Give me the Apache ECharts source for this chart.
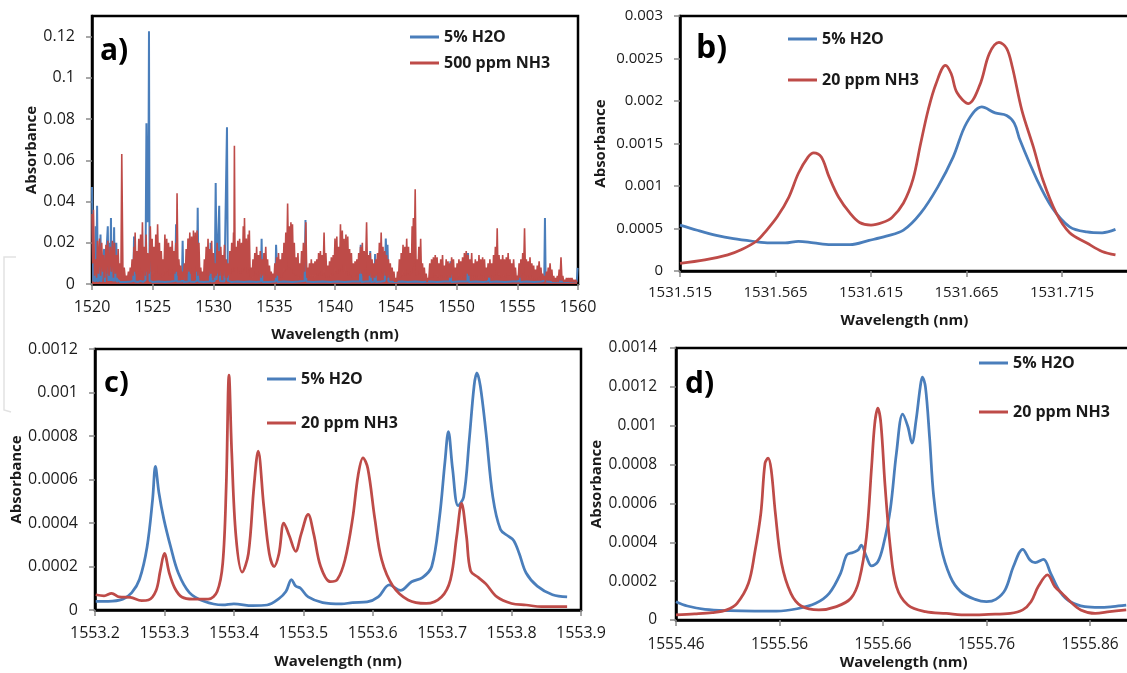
<!DOCTYPE html>
<html>
<head>
<meta charset="utf-8">
<script src="https://cdn.jsdelivr.net/npm/echarts@6.0.0/dist/echarts.min.js"></script>
<style>
html,body{margin:0;padding:0;background:#fff;}
#chart{width:1127px;height:673px;}
</style>
</head>
<body>
<div id="chart"></div>
<script>
// ---------- DATA ----------
const NAME_H2O = '5% H2O';
const NAME_NH3_A = '500 ppm NH3';
const NAME_NH3 = '20 ppm NH3';

// Panel a) : wide scan 1520-1560 nm
const ticksA = [1520,1525,1530,1535,1540,1545,1550,1555,1560];
const h2oA = [[1520.00,0.047],[1520.04,0.030],[1520.10,0.0012],[1520.20,0.012],[1520.25,0.001],[1520.30,0.028],[1520.35,0.0012],[1520.42,0.038],[1520.48,0.001],[1520.55,0.010],[1520.62,0.0012],[1520.70,0.024],[1520.76,0.001],[1520.90,0.0015],[1521.00,0.017],[1521.06,0.001],[1521.20,0.0018],[1521.30,0.028],[1521.36,0.0015],[1521.45,0.020],[1521.50,0.0015],[1521.56,0.032],[1521.62,0.0015],[1521.72,0.018],[1521.76,0.0012],[1521.82,0.0275],[1521.88,0.0012],[1522.00,0.020],[1522.06,0.001],[1522.15,0.002],[1522.30,0.001],[1522.80,0.001],[1523.20,0.0012],[1523.40,0.0015],[1523.46,0.023],[1523.52,0.0012],[1523.80,0.001],[1524.00,0.0015],[1524.20,0.001],[1524.40,0.0018],[1524.48,0.078],[1524.56,0.030],[1524.64,0.045],[1524.69,0.1226],[1524.74,0.0015],[1525.00,0.001],[1525.50,0.0012],[1526.00,0.001],[1526.50,0.0012],[1526.85,0.0015],[1526.92,0.029],[1526.98,0.0012],[1527.40,0.0012],[1527.46,0.021],[1527.52,0.001],[1527.95,0.0012],[1528.00,0.022],[1528.06,0.0012],[1528.40,0.001],[1528.64,0.0015],[1528.70,0.037],[1528.76,0.0012],[1529.20,0.001],[1529.70,0.0012],[1529.76,0.020],[1529.82,0.0012],[1530.10,0.0015],[1530.18,0.049],[1530.26,0.002],[1530.40,0.0018],[1530.47,0.038],[1530.54,0.0015],[1530.90,0.0012],[1531.04,0.0018],[1531.11,0.076],[1531.18,0.0015],[1531.50,0.001],[1532.00,0.0012],[1532.50,0.001],[1533.00,0.0012],[1533.50,0.001],[1533.90,0.0012],[1533.96,0.022],[1534.02,0.001],[1534.50,0.001],[1535.10,0.0012],[1535.15,0.019],[1535.20,0.012],[1535.25,0.001],[1535.80,0.0012],[1536.50,0.001],[1537.00,0.0012],[1537.50,0.0015],[1537.57,0.031],[1537.64,0.0012],[1538.20,0.001],[1539.00,0.0012],[1539.60,0.001],[1540.20,0.0012],[1540.80,0.001],[1541.40,0.0012],[1542.05,0.0012],[1542.12,0.019],[1542.18,0.001],[1542.50,0.0012],[1542.85,0.0012],[1542.90,0.016],[1542.96,0.001],[1543.25,0.0012],[1543.30,0.0145],[1543.36,0.001],[1543.80,0.0012],[1544.10,0.0015],[1544.18,0.022],[1544.25,0.010],[1544.32,0.019],[1544.40,0.0012],[1544.90,0.001],[1545.50,0.0012],[1546.00,0.001],[1546.60,0.0012],[1547.20,0.001],[1547.80,0.0012],[1548.40,0.001],[1549.00,0.0012],[1549.45,0.0012],[1549.50,0.011],[1549.56,0.001],[1550.20,0.0012],[1550.90,0.0012],[1550.95,0.015],[1551.01,0.001],[1551.60,0.0012],[1552.20,0.001],[1552.60,0.0012],[1552.65,0.008],[1552.71,0.001],[1553.30,0.0012],[1554.00,0.001],[1554.60,0.0012],[1555.10,0.0012],[1555.15,0.006],[1555.21,0.001],[1555.80,0.0012],[1556.40,0.001],[1557.00,0.0012],[1557.22,0.0015],[1557.28,0.032],[1557.34,0.0012],[1557.80,0.001],[1558.40,0.0012],[1559.00,0.001],[1559.50,0.0012],[1559.90,0.0012],[1559.97,0.0078]];
const nh3A = [[1520.00,0.034],[1520.06,0.010],[1520.12,0.036],[1520.21,0.004],[1520.30,0.012],[1520.38,0.003],[1520.45,0.021],[1520.53,0.005],[1520.62,0.022],[1520.71,0.004],[1520.80,0.020],[1520.88,0.006],[1520.95,0.014],[1521.05,0.003],[1521.15,0.019],[1521.22,0.005],[1521.30,0.021],[1521.40,0.004],[1521.50,0.018],[1521.59,0.006],[1521.68,0.021],[1521.76,0.003],[1521.85,0.020],[1521.92,0.005],[1522.00,0.014],[1522.08,0.003],[1522.15,0.017],[1522.22,0.004],[1522.30,0.010],[1522.38,0.003],[1522.45,0.063],[1522.55,0.003],[1522.65,0.008],[1522.75,0.002],[1522.85,0.004],[1522.92,0.002],[1523.00,0.006],[1523.08,0.002],[1523.15,0.008],[1523.22,0.003],[1523.30,0.012],[1523.38,0.004],[1523.45,0.018],[1523.50,0.006],[1523.55,0.025],[1523.62,0.005],[1523.70,0.016],[1523.78,0.006],[1523.85,0.022],[1523.92,0.004],[1524.00,0.024],[1524.08,0.006],[1524.15,0.030],[1524.22,0.005],[1524.30,0.018],[1524.38,0.004],[1524.45,0.024],[1524.52,0.006],[1524.60,0.015],[1524.70,0.005],[1524.80,0.028],[1524.88,0.006],[1524.95,0.022],[1525.02,0.004],[1525.10,0.018],[1525.18,0.005],[1525.25,0.024],[1525.32,0.006],[1525.40,0.029],[1525.48,0.005],[1525.55,0.020],[1525.62,0.004],[1525.70,0.016],[1525.78,0.003],[1525.85,0.012],[1525.92,0.004],[1526.00,0.024],[1526.08,0.005],[1526.15,0.022],[1526.22,0.006],[1526.30,0.020],[1526.38,0.004],[1526.45,0.018],[1526.52,0.005],[1526.60,0.021],[1526.68,0.004],[1526.75,0.016],[1526.82,0.005],[1526.90,0.020],[1526.95,0.006],[1527.00,0.044],[1527.08,0.004],[1527.15,0.012],[1527.22,0.003],[1527.30,0.009],[1527.38,0.002],[1527.45,0.006],[1527.52,0.002],[1527.60,0.010],[1527.68,0.003],[1527.75,0.017],[1527.82,0.005],[1527.90,0.022],[1527.98,0.006],[1528.05,0.025],[1528.12,0.005],[1528.20,0.023],[1528.28,0.006],[1528.35,0.026],[1528.42,0.005],[1528.50,0.025],[1528.58,0.006],[1528.65,0.026],[1528.72,0.004],[1528.80,0.020],[1528.88,0.003],[1528.95,0.008],[1529.02,0.002],[1529.10,0.006],[1529.18,0.002],[1529.25,0.012],[1529.32,0.004],[1529.40,0.018],[1529.48,0.005],[1529.55,0.022],[1529.62,0.004],[1529.70,0.017],[1529.78,0.005],[1529.85,0.021],[1529.92,0.003],[1530.00,0.015],[1530.08,0.003],[1530.15,0.010],[1530.22,0.004],[1530.30,0.020],[1530.38,0.005],[1530.45,0.016],[1530.52,0.004],[1530.60,0.018],[1530.68,0.005],[1530.75,0.014],[1530.82,0.004],[1530.90,0.019],[1530.98,0.003],[1531.05,0.012],[1531.12,0.003],[1531.20,0.010],[1531.28,0.004],[1531.35,0.016],[1531.42,0.005],[1531.50,0.020],[1531.58,0.006],[1531.65,0.025],[1531.68,0.008],[1531.72,0.067],[1531.78,0.006],[1531.85,0.018],[1531.92,0.005],[1532.00,0.021],[1532.08,0.006],[1532.15,0.022],[1532.22,0.005],[1532.30,0.020],[1532.38,0.006],[1532.45,0.028],[1532.50,0.008],[1532.55,0.032],[1532.62,0.006],[1532.70,0.022],[1532.78,0.005],[1532.85,0.024],[1532.90,0.007],[1532.95,0.026],[1533.02,0.003],[1533.10,0.008],[1533.18,0.003],[1533.25,0.012],[1533.32,0.004],[1533.40,0.015],[1533.48,0.005],[1533.55,0.018],[1533.62,0.004],[1533.70,0.014],[1533.78,0.005],[1533.85,0.016],[1533.92,0.003],[1534.00,0.012],[1534.08,0.004],[1534.15,0.015],[1534.22,0.005],[1534.30,0.018],[1534.38,0.004],[1534.45,0.012],[1534.52,0.003],[1534.60,0.009],[1534.68,0.002],[1534.75,0.006],[1534.82,0.002],[1534.90,0.005],[1534.98,0.002],[1535.05,0.010],[1535.12,0.003],[1535.20,0.013],[1535.28,0.004],[1535.35,0.015],[1535.42,0.004],[1535.50,0.012],[1535.58,0.003],[1535.65,0.015],[1535.72,0.005],[1535.80,0.020],[1535.88,0.006],[1535.95,0.025],[1536.02,0.007],[1536.10,0.039],[1536.18,0.008],[1536.25,0.028],[1536.31,0.008],[1536.37,0.030],[1536.44,0.007],[1536.50,0.029],[1536.58,0.005],[1536.65,0.020],[1536.72,0.004],[1536.80,0.013],[1536.88,0.004],[1536.95,0.015],[1537.02,0.003],[1537.10,0.010],[1537.18,0.004],[1537.25,0.016],[1537.32,0.005],[1537.40,0.020],[1537.50,0.006],[1537.60,0.030],[1537.68,0.003],[1537.75,0.008],[1537.82,0.003],[1537.90,0.010],[1537.98,0.004],[1538.05,0.012],[1538.12,0.004],[1538.20,0.010],[1538.28,0.003],[1538.35,0.011],[1538.42,0.004],[1538.50,0.012],[1538.58,0.004],[1538.65,0.015],[1538.72,0.005],[1538.80,0.016],[1538.88,0.004],[1538.95,0.014],[1539.02,0.005],[1539.10,0.025],[1539.18,0.004],[1539.25,0.015],[1539.32,0.003],[1539.40,0.009],[1539.48,0.003],[1539.55,0.011],[1539.62,0.004],[1539.70,0.013],[1539.78,0.004],[1539.85,0.014],[1539.92,0.005],[1540.00,0.022],[1540.08,0.006],[1540.15,0.023],[1540.22,0.005],[1540.30,0.018],[1540.38,0.006],[1540.45,0.029],[1540.52,0.007],[1540.60,0.026],[1540.68,0.006],[1540.75,0.022],[1540.82,0.005],[1540.90,0.024],[1540.98,0.006],[1541.05,0.023],[1541.12,0.004],[1541.20,0.017],[1541.28,0.004],[1541.35,0.015],[1541.42,0.003],[1541.50,0.010],[1541.58,0.003],[1541.65,0.011],[1541.72,0.004],[1541.80,0.012],[1541.88,0.004],[1541.95,0.015],[1542.02,0.005],[1542.10,0.018],[1542.18,0.005],[1542.25,0.020],[1542.32,0.004],[1542.40,0.016],[1542.50,0.005],[1542.60,0.030],[1542.68,0.004],[1542.75,0.014],[1542.82,0.004],[1542.90,0.015],[1542.98,0.003],[1543.05,0.012],[1543.12,0.003],[1543.20,0.010],[1543.28,0.003],[1543.35,0.012],[1543.42,0.004],[1543.50,0.015],[1543.58,0.005],[1543.65,0.020],[1543.72,0.005],[1543.80,0.025],[1543.88,0.005],[1543.95,0.018],[1544.02,0.004],[1544.10,0.016],[1544.18,0.004],[1544.25,0.014],[1544.32,0.003],[1544.40,0.012],[1544.48,0.003],[1544.55,0.010],[1544.62,0.002],[1544.70,0.008],[1544.78,0.002],[1544.85,0.006],[1544.92,0.001],[1545.00,0.003],[1545.08,0.001],[1545.15,0.006],[1545.22,0.002],[1545.30,0.012],[1545.38,0.003],[1545.45,0.015],[1545.52,0.004],[1545.60,0.019],[1545.68,0.005],[1545.75,0.018],[1545.82,0.004],[1545.90,0.022],[1545.98,0.005],[1546.05,0.018],[1546.12,0.004],[1546.20,0.015],[1546.28,0.005],[1546.35,0.028],[1546.40,0.008],[1546.45,0.032],[1546.52,0.010],[1546.60,0.046],[1546.68,0.004],[1546.75,0.012],[1546.82,0.004],[1546.90,0.018],[1546.98,0.005],[1547.05,0.022],[1547.12,0.003],[1547.20,0.010],[1547.28,0.002],[1547.35,0.008],[1547.42,0.002],[1547.50,0.005],[1547.58,0.001],[1547.65,0.003],[1547.72,0.002],[1547.80,0.010],[1547.88,0.003],[1547.95,0.012],[1548.02,0.003],[1548.10,0.013],[1548.18,0.004],[1548.25,0.014],[1548.32,0.004],[1548.40,0.013],[1548.48,0.003],[1548.55,0.010],[1548.62,0.003],[1548.70,0.012],[1548.78,0.004],[1548.85,0.014],[1548.92,0.003],[1549.00,0.009],[1549.08,0.003],[1549.15,0.012],[1549.22,0.004],[1549.30,0.011],[1549.38,0.003],[1549.45,0.010],[1549.52,0.003],[1549.60,0.013],[1549.68,0.004],[1549.75,0.012],[1549.82,0.003],[1549.90,0.008],[1549.98,0.002],[1550.05,0.010],[1550.12,0.003],[1550.20,0.012],[1550.28,0.004],[1550.35,0.011],[1550.42,0.003],[1550.50,0.013],[1550.58,0.004],[1550.65,0.015],[1550.72,0.004],[1550.80,0.016],[1550.88,0.005],[1550.95,0.014],[1551.02,0.004],[1551.10,0.012],[1551.18,0.004],[1551.25,0.015],[1551.32,0.003],[1551.40,0.010],[1551.48,0.003],[1551.55,0.012],[1551.62,0.004],[1551.70,0.011],[1551.78,0.003],[1551.85,0.014],[1551.92,0.004],[1552.00,0.012],[1552.08,0.004],[1552.15,0.013],[1552.22,0.003],[1552.30,0.012],[1552.38,0.003],[1552.45,0.008],[1552.52,0.002],[1552.60,0.010],[1552.68,0.003],[1552.75,0.012],[1552.82,0.003],[1552.90,0.010],[1552.98,0.003],[1553.05,0.014],[1553.12,0.004],[1553.20,0.018],[1553.28,0.006],[1553.35,0.027],[1553.42,0.004],[1553.50,0.014],[1553.58,0.004],[1553.65,0.012],[1553.72,0.003],[1553.80,0.014],[1553.88,0.004],[1553.95,0.012],[1554.02,0.003],[1554.10,0.013],[1554.18,0.004],[1554.25,0.015],[1554.32,0.004],[1554.40,0.012],[1554.48,0.003],[1554.55,0.010],[1554.62,0.003],[1554.70,0.012],[1554.78,0.003],[1554.85,0.008],[1554.92,0.002],[1555.00,0.004],[1555.08,0.002],[1555.15,0.010],[1555.22,0.003],[1555.30,0.012],[1555.38,0.004],[1555.45,0.015],[1555.52,0.005],[1555.60,0.027],[1555.68,0.004],[1555.75,0.012],[1555.82,0.003],[1555.90,0.011],[1555.98,0.003],[1556.05,0.013],[1556.12,0.003],[1556.20,0.010],[1556.28,0.003],[1556.35,0.009],[1556.42,0.002],[1556.50,0.007],[1556.58,0.002],[1556.65,0.009],[1556.72,0.003],[1556.80,0.011],[1556.88,0.003],[1556.95,0.008],[1557.02,0.002],[1557.10,0.005],[1557.18,0.002],[1557.25,0.004],[1557.32,0.001],[1557.40,0.006],[1557.48,0.002],[1557.55,0.008],[1557.62,0.002],[1557.70,0.010],[1557.78,0.002],[1557.85,0.007],[1557.92,0.001],[1558.00,0.004],[1558.08,0.001],[1558.15,0.003],[1558.22,0.001],[1558.30,0.004],[1558.38,0.001],[1558.45,0.007],[1558.52,0.002],[1558.60,0.013],[1558.68,0.002],[1558.75,0.004],[1558.82,0.001],[1558.90,0.002],[1558.98,0.001],[1559.05,0.003],[1559.12,0.001],[1559.20,0.003],[1559.28,0.001],[1559.35,0.003],[1559.42,0.001],[1559.50,0.003],[1559.58,0.001],[1559.65,0.002],[1559.72,0.001],[1559.80,0.002],[1559.88,0.001],[1559.95,0.001]];

// Panel b)
const ticksB = [1531.515,1531.565,1531.615,1531.665,1531.715];
const h2oB = [[1531.515,0.00054],[1531.524,0.00048],[1531.534,0.00042],[1531.543,0.00038],[1531.553,0.00035],[1531.562,0.00033],[1531.570,0.00033],[1531.577,0.00035],[1531.585,0.00033],[1531.594,0.00031],[1531.604,0.00031],[1531.614,0.00036],[1531.623,0.00041],[1531.632,0.00048],[1531.641,0.00068],[1531.650,0.00099],[1531.658,0.00134],[1531.665,0.00174],[1531.673,0.00193],[1531.680,0.00186],[1531.686,0.00183],[1531.690,0.00174],[1531.693,0.00154],[1531.702,0.00107],[1531.710,0.00074],[1531.719,0.00052],[1531.728,0.00046],[1531.736,0.00045],[1531.743,0.00049]];
const nh3B = [[1531.515,0.00009],[1531.528,0.00013],[1531.540,0.00019],[1531.547,0.00025],[1531.555,0.00035],[1531.560,0.00047],[1531.566,0.00064],[1531.572,0.00087],[1531.577,0.00115],[1531.582,0.00134],[1531.585,0.00139],[1531.589,0.00134],[1531.593,0.00111],[1531.598,0.00087],[1531.604,0.00068],[1531.609,0.00057],[1531.615,0.00054],[1531.621,0.00057],[1531.626,0.00063],[1531.632,0.00080],[1531.637,0.00108],[1531.641,0.00150],[1531.645,0.00190],[1531.649,0.00220],[1531.654,0.00242],[1531.657,0.00232],[1531.660,0.00210],[1531.666,0.00197],[1531.672,0.00219],[1531.677,0.00256],[1531.682,0.00269],[1531.686,0.00262],[1531.689,0.00240],[1531.694,0.00189],[1531.700,0.00146],[1531.705,0.00107],[1531.712,0.00068],[1531.719,0.00045],[1531.728,0.00033],[1531.736,0.00023],[1531.743,0.00019]];

// Panel c)
const ticksC = [1553.2,1553.3,1553.4,1553.5,1553.6,1553.7,1553.8,1553.9];
const h2oC = [[1553.201,0.00004],[1553.219,0.00004],[1553.240,0.00005],[1553.253,0.00008],[1553.264,0.00014],[1553.275,0.00029],[1553.283,0.00051],[1553.287,0.00066],[1553.292,0.00054],[1553.299,0.00042],[1553.309,0.00029],[1553.320,0.00017],[1553.336,0.00008],[1553.357,0.00004],[1553.384,0.000023],[1553.400,0.000028],[1553.427,0.00002],[1553.448,0.000023],[1553.464,0.00005],[1553.475,0.000085],[1553.483,0.00014],[1553.489,0.00011],[1553.496,0.0001],[1553.507,0.00006],[1553.528,0.000034],[1553.555,0.000028],[1553.571,0.000034],[1553.592,0.000037],[1553.608,0.00006],[1553.624,0.000115],[1553.640,0.00009],[1553.656,0.00013],[1553.672,0.00015],[1553.685,0.0002],[1553.696,0.00042],[1553.704,0.00068],[1553.709,0.00082],[1553.715,0.00065],[1553.723,0.00048],[1553.731,0.00052],[1553.739,0.00078],[1553.746,0.00103],[1553.750,0.00109],[1553.755,0.00103],[1553.763,0.00082],[1553.773,0.00052],[1553.784,0.00037],[1553.795,0.00034],[1553.803,0.00032],[1553.811,0.00026],[1553.821,0.00017],[1553.837,0.00011],[1553.859,0.00007],[1553.880,0.00006]];
const nh3C = [[1553.201,0.00007],[1553.213,0.000065],[1553.224,0.000077],[1553.235,0.00006],[1553.251,0.000058],[1553.267,0.000043],[1553.277,0.000046],[1553.288,0.00009],[1553.294,0.00018],[1553.300,0.00026],[1553.307,0.00017],[1553.315,0.0001],[1553.325,0.00006],[1553.341,0.00005],[1553.363,0.00005],[1553.376,0.000085],[1553.384,0.000215],[1553.389,0.00057],[1553.393,0.00108],[1553.397,0.00072],[1553.403,0.00034],[1553.412,0.000174],[1553.421,0.00026],[1553.429,0.00057],[1553.435,0.00073],[1553.443,0.00048],[1553.451,0.00026],[1553.458,0.0002],[1553.465,0.00026],[1553.472,0.0004],[1553.480,0.00034],[1553.489,0.00027],[1553.497,0.00035],[1553.507,0.00044],[1553.515,0.00035],[1553.525,0.0002],[1553.539,0.00013],[1553.549,0.00014],[1553.560,0.00023],[1553.571,0.00042],[1553.579,0.00062],[1553.586,0.0007],[1553.593,0.00065],[1553.603,0.00042],[1553.613,0.00023],[1553.629,0.00011],[1553.651,0.000046],[1553.677,0.00003],[1553.699,0.00006],[1553.712,0.00014],[1553.721,0.00034],[1553.728,0.00049],[1553.735,0.00034],[1553.741,0.00018],[1553.752,0.00015],[1553.763,0.00012],[1553.779,0.00006],[1553.800,0.00003],[1553.821,0.000023],[1553.843,0.000015],[1553.880,0.000015]];

// Panel d)
const ticksD = [1555.46,1555.56,1555.66,1555.76,1555.86];
const h2oD = [[1555.460,0.000094],[1555.471,0.000072],[1555.488,0.000055],[1555.512,0.000048],[1555.536,0.000046],[1555.557,0.000046],[1555.577,0.000058],[1555.595,0.000086],[1555.608,0.000137],[1555.619,0.00024],[1555.625,0.000335],[1555.631,0.000347],[1555.636,0.00036],[1555.639,0.000385],[1555.644,0.000326],[1555.649,0.000278],[1555.655,0.0003],[1555.660,0.000378],[1555.667,0.000567],[1555.673,0.00086],[1555.679,0.00106],[1555.684,0.000996],[1555.688,0.00091],[1555.692,0.00103],[1555.696,0.0012],[1555.698,0.00125],[1555.701,0.0012],[1555.705,0.00094],[1555.709,0.000635],[1555.716,0.000378],[1555.725,0.000223],[1555.735,0.000146],[1555.749,0.000106],[1555.760,0.000094],[1555.769,0.000106],[1555.778,0.000155],[1555.786,0.000275],[1555.795,0.000364],[1555.802,0.000309],[1555.807,0.000295],[1555.815,0.000312],[1555.822,0.00024],[1555.831,0.000146],[1555.841,0.000094],[1555.855,0.000069],[1555.869,0.000065],[1555.882,0.000069],[1555.895,0.000076]];
const nh3D = [[1555.460,0.000026],[1555.478,0.000031],[1555.495,0.000038],[1555.509,0.000052],[1555.519,0.000086],[1555.530,0.000189],[1555.536,0.000343],[1555.542,0.00055],[1555.546,0.000807],[1555.549,0.000833],[1555.552,0.000773],[1555.556,0.00055],[1555.562,0.000292],[1555.571,0.000137],[1555.581,0.000072],[1555.598,0.000052],[1555.615,0.000069],[1555.629,0.000112],[1555.637,0.000206],[1555.644,0.000429],[1555.649,0.00079],[1555.652,0.00101],[1555.655,0.00109],[1555.658,0.00101],[1555.662,0.00069],[1555.667,0.000378],[1555.673,0.000172],[1555.684,0.000077],[1555.701,0.000043],[1555.721,0.000034],[1555.742,0.000026],[1555.762,0.000029],[1555.783,0.000034],[1555.795,0.000052],[1555.803,0.000094],[1555.810,0.000172],[1555.819,0.000232],[1555.826,0.000172],[1555.833,0.000137],[1555.841,0.000094],[1555.851,0.000052],[1555.865,0.000034],[1555.879,0.000043],[1555.895,0.000052]];

// ---------- STYLE ----------
const FONT = '"Open Sans", "Liberation Sans", sans-serif';
const BLUE = '#4A7EBB';
const RED = '#BE4B48';
const TXT = '#1a1a1a';

function yFmt(v){ return String(+v.toFixed(6)); }

function grid(left, top, width, height){
  return {left, top, width, height, show:true, borderColor:'#000', borderWidth:2.5,
          backgroundColor:'transparent', containLabel:false, outerBoundsMode:'none'};
}
function xAx(idx, min, max, ticks, dec, fs, margin, nameGap){
  return {type:'value', gridIndex:idx, min, max,
    name:'Wavelength (nm)', nameLocation:'middle', nameGap,
    nameTextStyle:{fontFamily:FONT, fontWeight:'bold', fontSize:15, color:TXT},
    axisLine:{show:true, onZero:false, lineStyle:{color:'#000', width:2.5}},
    axisTick:{show:true, length:6, inside:false, lineStyle:{color:'#8a8a8a', width:1.5}, customValues:ticks},
    axisLabel:{customValues:ticks, margin, fontFamily:FONT, fontSize:fs, color:TXT,
      formatter:v=>Number(v).toFixed(dec), showMinLabel:true, showMaxLabel:true, hideOverlap:false},
    splitLine:{show:false}};
}
function yAx(idx, max, interval, fs, margin, nameGap, hideMax){
  return {type:'value', gridIndex:idx, min:0, max, interval,
    name:'Absorbance', nameLocation:'middle', nameGap,
    nameTextStyle:{fontFamily:FONT, fontWeight:'bold', fontSize:15, color:TXT},
    axisLine:{show:true, lineStyle:{color:'#000', width:2.5}},
    axisTick:{show:true, length:6, lineStyle:{color:'#8a8a8a', width:1.5}},
    axisLabel:{margin, fontFamily:FONT, fontSize:fs, color:TXT, formatter:yFmt,
      showMaxLabel: !hideMax, hideOverlap:false},
    splitLine:{show:false}};
}
function legend(left, top, gap, names){
  return {show:true, orient:'vertical', left, top, itemGap:gap, padding:0,
    icon:'rect', itemWidth:29, itemHeight:3, selectedMode:false,
    textStyle:{fontFamily:FONT, fontWeight:'bold', fontSize:16, color:TXT, lineHeight:18},
    data:names.map(n=>({name:n}))};
}
function ser(name, data, idx, color, width, smooth, area){
  const s = {type:'line', name, data, xAxisIndex:idx, yAxisIndex:idx,
    showSymbol:false, symbol:'none', smooth, clip:true,
    lineStyle:{color, width}, itemStyle:{color}, emphasis:{disabled:true}};
  if (area) s.areaStyle = {color, opacity:1};
  return s;
}
function letter(t, x, y, size){
  return {type:'text', x, y, silent:true,
    style:{text:t, font:'bold '+size+'px '+FONT, fill:'#000', verticalAlign:'middle', textVerticalAlign:'middle'}};
}

const option = {
  animation:false,
  backgroundColor:'#fff',
  textStyle:{fontFamily:FONT},
  grid:[
    grid(92, 16, 486, 268),
    grid(680, 16, 448.85, 255),
    grid(95, 349, 486, 261),
    grid(676, 348, 455.4, 272)
  ],
  xAxis:[
    xAx(0, 1520, 1560, ticksA, 0, 16, 15, 43),
    xAx(1, 1531.515, 1531.75, ticksB, 3, 15, 14, 42),
    xAx(2, 1553.2, 1553.9, ticksC, 1, 16, 15, 44),
    xAx(3, 1555.46, 1555.9, ticksD, 2, 15.5, 17, 35)
  ],
  yAxis:[
    yAx(0, 0.13, 0.02, 16, 17, 53, true),
    yAx(1, 0.003, 0.0005, 15, 17, 72, false),
    yAx(2, 0.0012, 0.0002, 16, 17, 69, false),
    yAx(3, 0.0014, 0.0002, 15.5, 19, 68, false)
  ],
  legend:[
    legend(410, 28, 8, [NAME_H2O, NAME_NH3_A]),
    legend(788, 30, 23, [NAME_H2O, NAME_NH3]),
    legend(267, 370, 26, [NAME_H2O, NAME_NH3]),
    legend(979, 354, 31, [NAME_H2O, NAME_NH3])
  ],
  series:[
    ser(NAME_H2O, h2oA, 0, BLUE, 2, false, false),
    ser(NAME_NH3_A, nh3A, 0, RED, 1.6, false, true),
    ser(NAME_H2O, h2oB, 1, BLUE, 2.75, 0.35),
    ser(NAME_NH3, nh3B, 1, RED, 2.75, 0.35),
    ser(NAME_H2O, h2oC, 2, BLUE, 2.75, 0.35),
    ser(NAME_NH3, nh3C, 2, RED, 2.75, 0.35),
    ser(NAME_H2O, h2oD, 3, BLUE, 2.75, 0.35),
    ser(NAME_NH3, nh3D, 3, RED, 2.75, 0.35)
  ],
  graphic:[
    letter('a)', 100, 51, 30),
    letter('b)', 696, 49, 32),
    letter('c)', 104, 384, 29),
    letter('d)', 685, 384, 30),
    {type:'polyline', silent:true, shape:{points:[[16,257],[4,257],[4,410],[11,412]]},
     style:{stroke:'#e2e2e2', lineWidth:1.5, fill:null}}
  ]
};

const chart = echarts.init(document.getElementById('chart'), null, {renderer:'canvas', width:1127, height:673});
chart.setOption(option);
</script>
</body>
</html>
